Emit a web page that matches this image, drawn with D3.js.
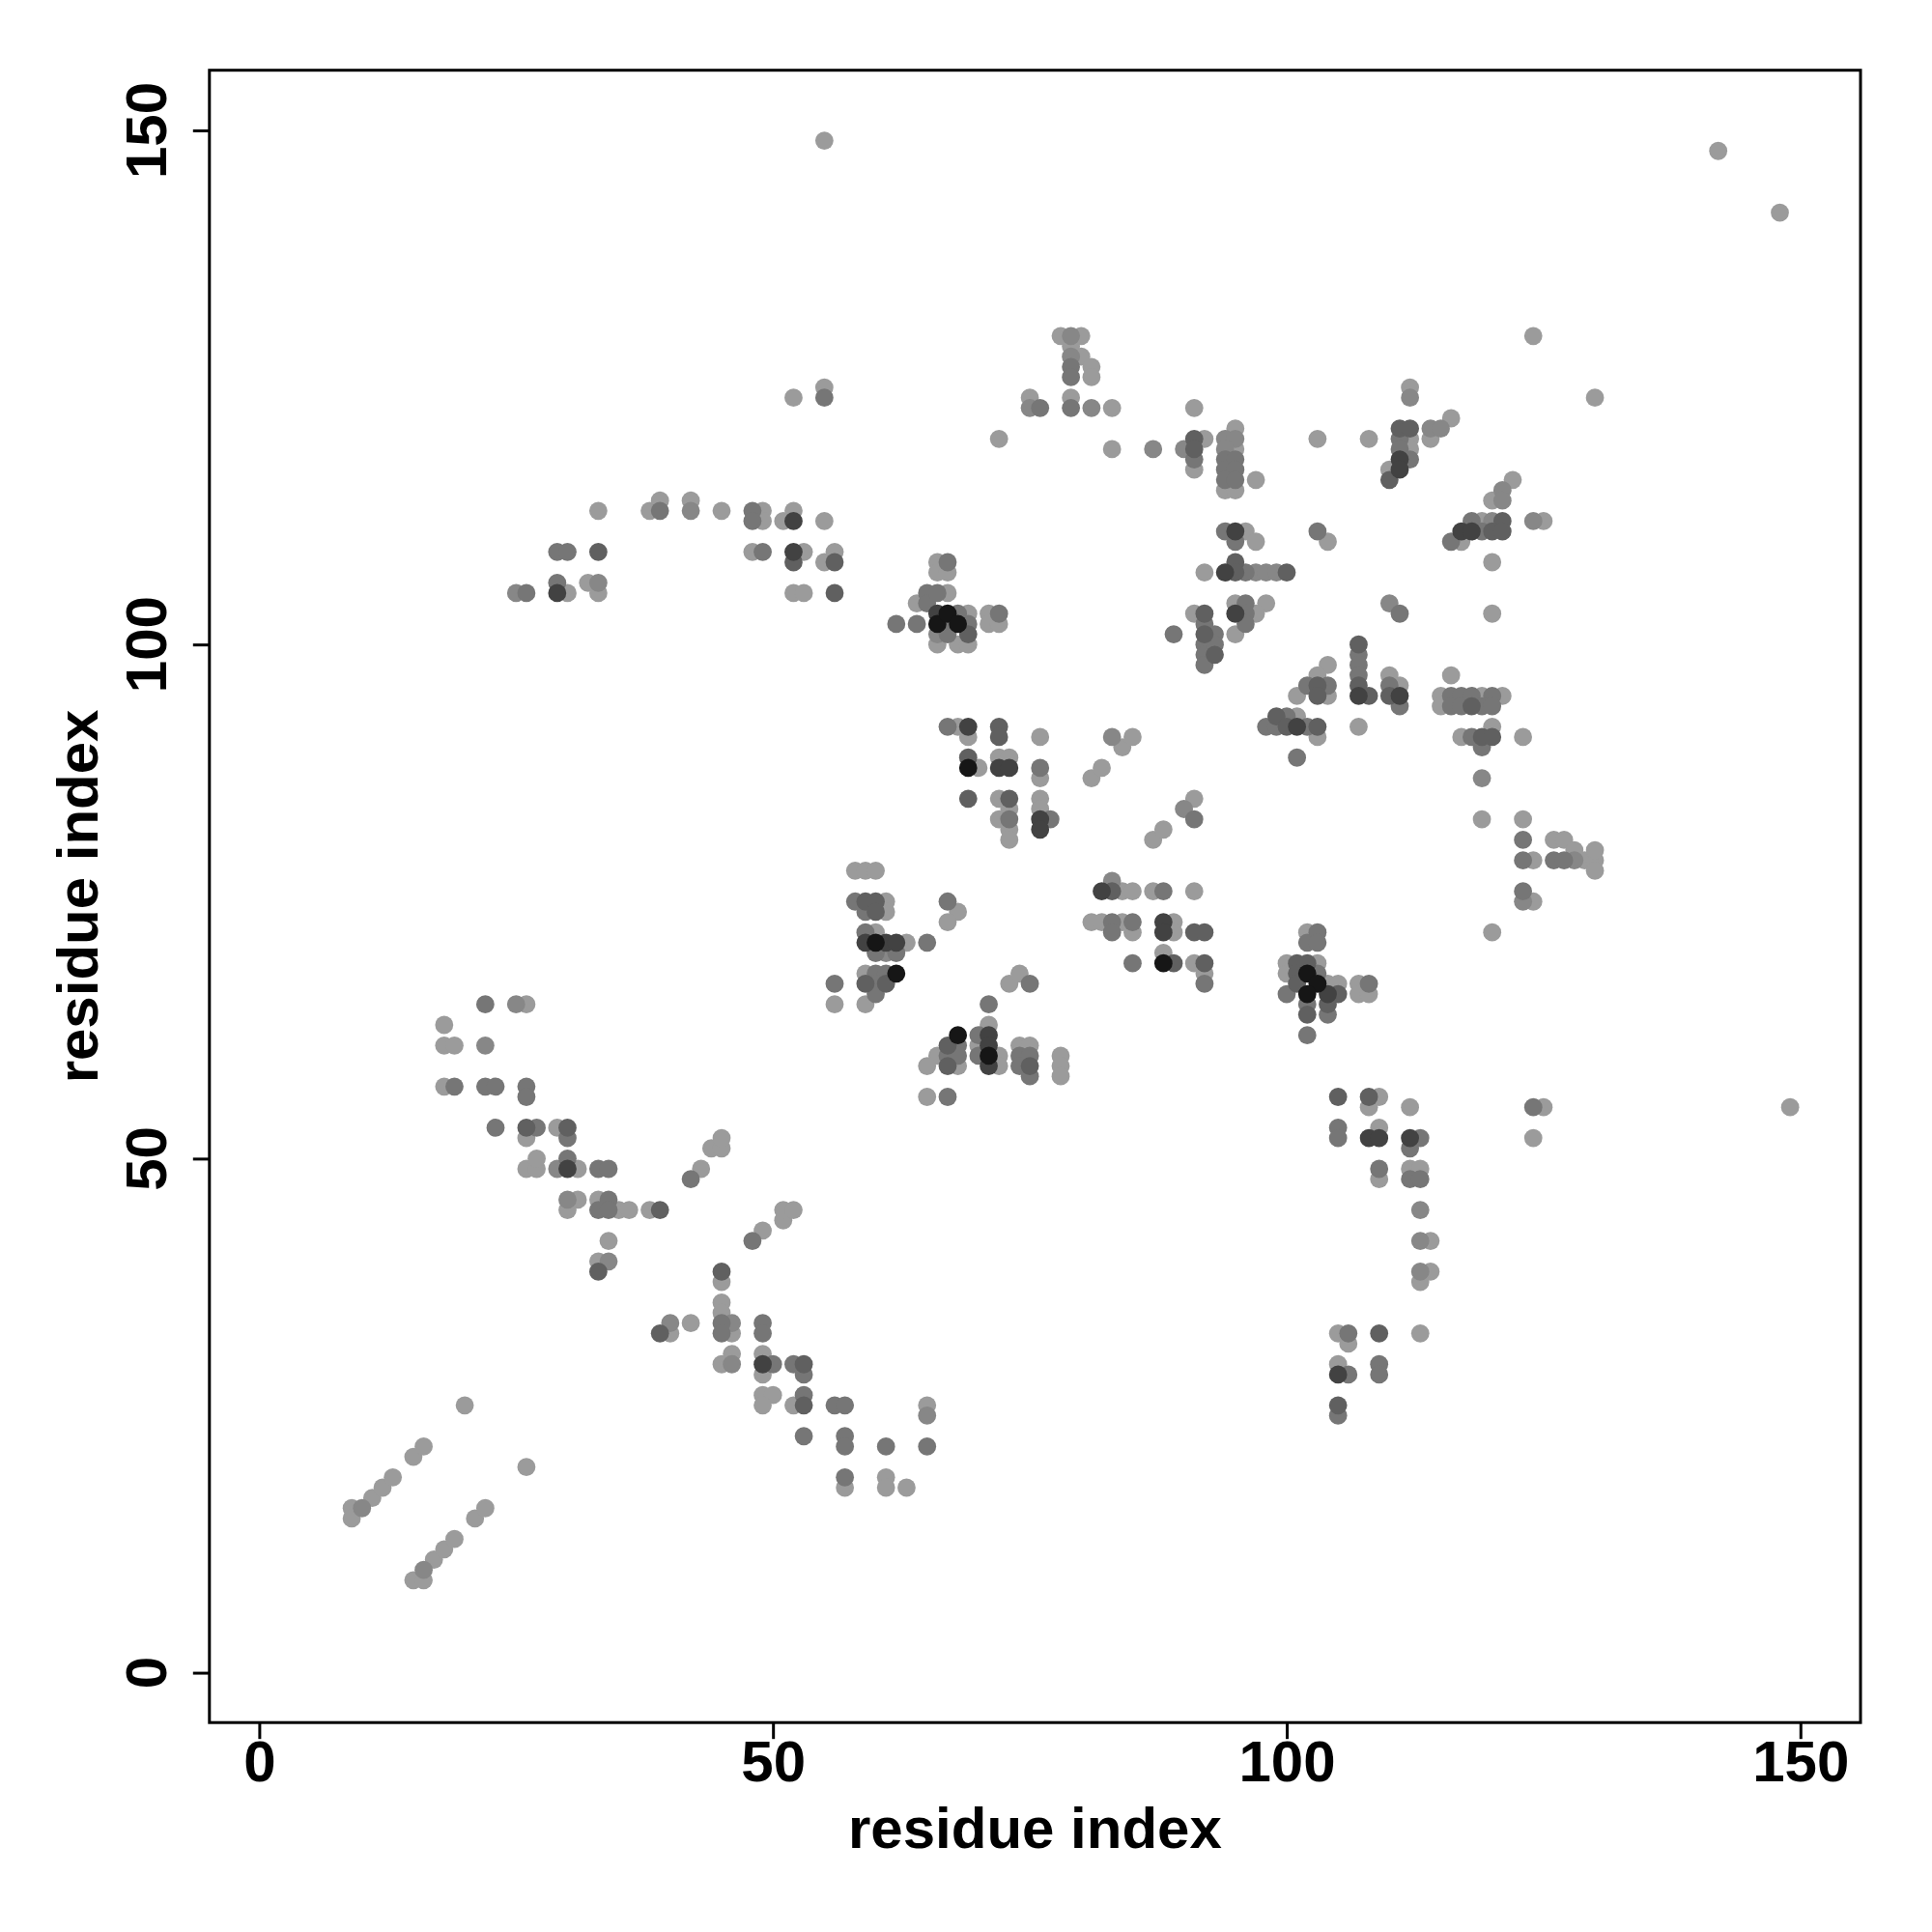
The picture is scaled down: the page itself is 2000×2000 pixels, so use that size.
<!DOCTYPE html>
<html><head><meta charset="utf-8">
<script src="https://cdn.jsdelivr.net/npm/d3@7"></script>
<style>body{margin:0;background:#fff}</style>
</head><body>
<svg id="chart" width="2000" height="2000" xmlns="http://www.w3.org/2000/svg"></svg>
<script>
// ---- data: [residue i, residue j, contact score level 1..6] ----
const strandsLow = [[9,16,1],[9,15,1],[10,16,2],[11,17,1],[12,18,1],[13,19,1],[15,21,1],[16,22,1],[15,9,1],[16,9,1],[16,10,2],[17,11,1],[18,12,1],[19,13,1],[21,15,1],[22,16,1],[20,26,1],[26,20,1]];
const sheetA = [[18,63,1],[18,61,1],[19,61,1],[22,61,2],[22,65,3],[25,65,2],[26,65,1],[18,57,1],[19,57,3],[22,57,3],[23,57,3],[26,57,3],[26,56,3],[23,53,3],[26,53,4],[27,53,3],[26,52,1],[29,53,1],[30,53,4],[30,52,3],[26,49,1],[27,49,1],[27,50,1],[29,49,2],[30,50,3],[30,49,5],[31,49,1],[33,49,3],[34,49,3],[30,46,2],[31,46,1],[30,45,1],[33,46,1],[34,46,3],[33,45,3],[34,45,3],[35,45,1],[36,45,1],[38,45,1],[39,45,4],[34,42,1],[33,40,1],[34,40,2],[33,39,4],[42,48,3],[43,49,1],[44,51,1],[45,51,1],[45,52,1]];
const sheetB = [[48,42,3],[49,43,1],[51,44,1],[51,45,1],[52,45,1],[45,39,4],[45,38,1],[45,36,1],[45,35,1],[45,34,3],[46,34,2],[45,33,3],[46,33,1],[39,33,4],[40,34,2],[40,33,1],[42,34,1],[45,30,1],[46,31,1],[46,30,2],[49,34,3],[49,33,3],[49,31,1],[49,30,5],[50,30,3],[49,29,1],[49,27,1],[50,27,1],[49,26,1],[52,30,3],[53,30,4],[53,29,3],[52,26,1],[53,27,3],[53,26,4],[53,23,3],[56,26,3],[57,26,3],[57,23,3],[57,22,3],[57,19,3],[57,18,1],[61,22,3],[61,19,1],[61,18,1],[63,18,1],[65,26,1],[65,25,2],[65,22,3]];
const sheetTop = [[25,105,2],[26,105,3],[29,109,3],[30,109,3],[33,109,4],[29,106,3],[29,105,5],[30,105,1],[32,106,1],[33,106,2],[33,105,1],[33,113,1],[38,113,1],[39,114,1],[39,113,3],[42,114,1],[42,113,2],[45,113,1],[48,113,3],[49,113,1],[48,112,3],[49,112,1],[51,112,1],[52,113,1],[52,112,5],[55,112,1],[48,109,1],[49,109,3],[52,109,5],[53,109,1],[52,108,4],[55,108,1],[56,109,1],[56,108,4],[52,105,1],[53,105,1],[56,105,4],[52,124,1],[55,125,1],[55,124,3],[55,149,1]];
const helixA = [[62,102,3],[64,102,3],[64,104,1],[65,105,3],[65,104,3],[66,105,3],[67,105,1],[66,108,1],[67,108,3],[66,107,1],[67,107,1],[66,103,5],[66,102,6],[67,103,6],[67,102,3],[68,102,6],[68,103,3],[69,103,1],[69,102,3],[69,101,4],[66,101,2],[67,101,3],[66,100,1],[68,100,1],[69,100,1],[71,103,1],[72,103,3],[71,102,1],[72,102,1]];
const topMid = [[72,120,1],[75,124,1],[75,123,2],[76,123,3],[78,130,1],[79,130,2],[80,130,1],[79,129,1],[79,128,2],[79,127,3],[79,126,3],[80,128,1],[81,127,1],[81,126,1],[79,124,1],[79,123,3],[81,123,2],[83,123,1],[83,119,1],[87,119,2]];
const helixB = [[91,123,1],[90,119,2],[91,120,4],[92,120,1],[91,119,4],[91,118,3],[91,117,1],[95,121,1],[94,120,2],[95,120,2],[94,119,2],[95,119,1],[94,118,3],[95,118,3],[94,117,3],[95,117,3],[94,116,3],[95,116,3],[94,115,1],[95,115,1],[97,116,1],[94,111,3],[95,111,5],[96,111,1],[95,110,3],[97,110,1],[95,108,4],[92,107,1],[94,107,5],[95,107,4],[96,107,3],[97,107,2],[98,107,2],[99,107,2],[100,107,4],[89,101,3],[91,103,1],[92,103,4],[92,102,3],[92,101,4],[92,100,3],[92,99,3],[92,98,3],[93,101,3],[93,100,3],[93,99,4],[95,104,1],[96,104,3],[98,104,1],[95,103,5],[96,103,3],[97,103,1],[96,102,3],[95,101,1]];
const upperRight = [[103,120,1],[108,120,1],[112,125,1],[112,124,2],[111,121,4],[112,121,4],[111,120,3],[112,120,1],[111,119,3],[112,119,1],[111,118,5],[112,118,3],[110,117,1],[111,117,5],[110,116,4],[114,120,1],[114,121,2],[115,121,2],[116,122,1],[122,116,1],[121,115,2],[121,114,2],[120,114,1],[118,112,3],[119,112,1],[120,112,2],[121,112,4],[117,111,5],[118,111,5],[119,111,3],[120,111,4],[121,111,4],[116,110,3],[117,110,1],[124,112,2],[125,112,1],[120,108,1],[120,103,1],[110,104,2],[111,103,3],[103,111,3],[104,110,1],[107,100,4],[104,98,1],[124,130,1],[130,124,1],[142,148,1],[148,142,1]];
const midRight = [[107,99,3],[107,98,3],[107,97,3],[107,96,4],[107,95,5],[108,95,4],[107,92,1],[103,97,1],[102,96,3],[103,96,4],[104,96,3],[101,95,1],[103,95,4],[104,95,1],[99,93,4],[100,93,3],[101,93,1],[98,92,3],[99,92,3],[100,92,4],[101,92,5],[102,92,3],[103,92,4],[103,91,1],[101,89,3],[110,97,1],[110,96,3],[111,96,1],[110,95,4],[111,95,5],[111,94,3]];
const farRight = [[116,97,1],[115,95,1],[116,95,3],[117,95,3],[118,95,3],[119,95,1],[120,95,3],[121,95,1],[115,94,1],[116,94,3],[117,94,3],[118,94,4],[119,94,3],[120,94,3],[117,91,1],[118,91,3],[119,91,4],[120,91,4],[120,92,1],[119,90,3],[123,91,1],[119,87,2],[119,83,1],[123,83,1],[123,81,3],[123,79,3],[124,79,1],[126,81,1],[127,81,1],[128,80,1],[126,79,3],[127,79,3],[128,79,2],[129,79,1],[130,79,1],[130,80,1],[130,78,1],[123,76,3],[124,75,1],[123,75,2],[120,72,1]];
const centerUp = [[67,92,3],[68,92,1],[69,92,5],[69,91,1],[72,92,4],[72,91,4],[76,91,1],[69,89,4],[69,88,6],[70,88,1],[72,89,1],[73,89,1],[72,88,5],[73,88,5],[76,88,3],[76,87,1],[69,85,4],[72,85,1],[73,85,4],[73,84,1],[72,83,1],[73,83,3],[73,82,1],[73,81,1],[76,85,1],[76,84,1],[76,83,5],[77,83,3],[76,82,5],[81,87,1],[82,88,1],[83,91,2],[84,90,1],[85,91,1],[87,81,1],[88,82,1],[90,84,2],[91,85,1],[91,83,3]];
const centerRight = [[83,77,2],[82,76,5],[83,76,4],[84,76,1],[85,76,1],[87,76,1],[88,76,3],[91,76,1],[81,73,1],[82,73,1],[83,73,3],[84,73,1],[85,73,3],[83,72,3],[85,72,1],[88,73,5],[88,72,5],[89,73,1],[89,72,1],[91,72,4],[92,72,4],[85,69,3],[88,70,1],[88,69,6],[89,69,4],[91,69,1],[92,69,4],[92,68,1],[92,67,3]];
const centerLeft = [[58,78,1],[59,78,1],[60,78,1],[58,75,3],[59,75,4],[60,75,4],[61,75,1],[59,74,3],[60,74,4],[61,74,1],[59,72,3],[60,72,1],[59,71,5],[60,71,6],[61,71,5],[62,71,5],[63,71,1],[65,71,3],[60,70,3],[61,70,2],[62,70,3],[59,68,1],[60,68,3],[61,68,3],[62,68,6],[59,67,4],[60,67,3],[61,67,4],[60,66,3],[56,67,3],[56,65,1],[59,65,1],[67,75,3],[68,74,1],[67,73,1],[71,65,3],[73,67,1],[74,68,1],[75,67,3]];
const centerLow = [[68,62,6],[67,61,4],[68,61,3],[67,60,3],[68,60,3],[66,60,1],[65,59,1],[67,59,4],[68,59,1],[70,62,3],[70,61,1],[70,60,3],[71,63,1],[71,62,5],[71,61,5],[71,60,6],[71,59,5],[72,60,1],[72,59,1],[74,61,1],[75,61,1],[74,60,3],[75,60,3],[74,59,3],[75,59,4],[75,58,3],[78,60,1],[78,59,1],[78,58,1],[65,56,1],[67,56,3]];
const lowRight = [[102,72,1],[103,72,3],[102,71,3],[103,71,3],[100,69,1],[101,69,4],[102,69,4],[103,69,1],[100,68,1],[101,68,4],[102,68,6],[103,68,3],[101,67,4],[103,67,6],[104,67,1],[105,67,1],[100,66,3],[102,66,6],[104,66,5],[105,66,4],[102,65,3],[104,65,4],[102,64,4],[104,64,3],[102,62,3],[107,67,1],[108,67,3],[107,66,1],[108,66,1]];
const bottomRight = [[105,56,4],[108,56,4],[109,56,1],[108,55,1],[112,55,1],[124,55,3],[125,55,1],[149,55,1],[105,53,3],[105,52,3],[108,52,5],[109,52,5],[109,53,1],[112,52,5],[113,52,3],[112,51,3],[124,52,1],[109,49,3],[109,48,1],[112,49,1],[113,49,1],[112,48,3],[113,48,3],[113,45,2],[113,42,2],[114,42,1],[113,39,2],[114,39,1],[113,38,1],[113,33,1],[105,33,1],[106,33,3],[106,32,1],[109,33,4],[105,30,1],[105,29,5],[106,29,3],[109,30,3],[109,29,3],[105,26,4],[105,25,3]];

const scoreLevels = [1,2,3,4,5,6];
const grayLevels  = ["#9b9b9b","#878787","#767676","#606060","#424242","#161616"];
const tickValues = [0,50,100,150];
const xTitle = "residue index", yTitle = "residue index";

// ---- drawing ----
const svg = d3.select("#chart");
const box = {left:216.8, right:1926, top:72.7, bottom:1783.2};
const dom = [-4.85, 155.85];
const x = d3.scaleLinear().domain(dom).range([box.left, box.right]);
const y = d3.scaleLinear().domain(dom).range([box.bottom, box.top]);
const color = d3.scaleOrdinal().domain(scoreLevels).range(grayLevels);

svg.append("rect").attr("width",2000).attr("height",2000).attr("fill","#fff");

const all = [].concat(strandsLow, sheetA, sheetB, sheetTop, helixA, topMid, helixB, upperRight,
  midRight, farRight, centerUp, centerRight, centerLeft, centerLow, lowRight, bottomRight)
  .map(d => ({i:d[0], j:d[1], s:d[2]}))
  .sort((a,b) => a.s - b.s);

svg.append("g").selectAll("circle").data(all).join("circle")
  .attr("cx", d => x(d.i)).attr("cy", d => y(d.j)).attr("r", 9.4)
  .attr("fill", d => color(d.s));

svg.append("rect").attr("x",box.left).attr("y",box.top)
  .attr("width",box.right-box.left).attr("height",box.bottom-box.top)
  .attr("fill","none").attr("stroke","#000").attr("stroke-width",3);

const font = "'Liberation Sans', Arial, sans-serif";

const xa = svg.append("g").attr("transform",`translate(0,${box.bottom})`)
  .call(d3.axisBottom(x).tickValues(tickValues).tickSize(17).tickPadding(1).tickFormat(d3.format("d")));
xa.select(".domain").remove();
xa.selectAll(".tick line").attr("stroke","#000").attr("stroke-width",3);
xa.selectAll(".tick text").attr("font-family",font).attr("font-size",60).attr("font-weight","bold").attr("fill","#000");

const ya = svg.append("g").attr("transform",`translate(${box.left},0)`)
  .call(d3.axisLeft(y).tickValues(tickValues).tickSize(17).tickFormat(""));
ya.select(".domain").remove();
ya.selectAll(".tick line").attr("stroke","#000").attr("stroke-width",3);

svg.append("g").selectAll("text").data(tickValues).join("text")
  .attr("transform", d => `translate(172,${y(d)}) rotate(-90)`)
  .attr("text-anchor","middle").attr("font-family",font).attr("font-size",60)
  .attr("font-weight","bold").attr("fill","#000").text(d => d);

svg.append("text").attr("x",(box.left+box.right)/2).attr("y",1913)
  .attr("text-anchor","middle").attr("font-family",font).attr("font-size",60)
  .attr("font-weight","bold").text(xTitle);
svg.append("text").attr("transform",`translate(101,${(box.top+box.bottom)/2}) rotate(-90)`)
  .attr("text-anchor","middle").attr("font-family",font).attr("font-size",60)
  .attr("font-weight","bold").text(yTitle);
</script>
</body></html>
